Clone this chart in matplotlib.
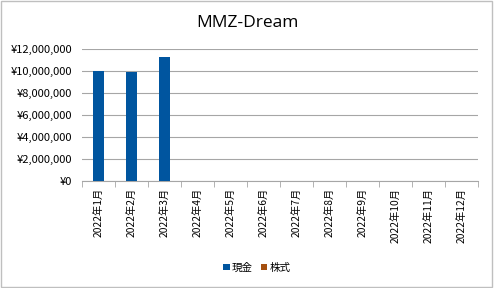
import matplotlib.pyplot as plt
import matplotlib.ticker as mticker
from matplotlib.patches import Rectangle
import numpy as np

plt.rcParams['font.family'] = ['Noto Sans CJK JP', 'DejaVu Sans']

months = ['2022年1月', '2022年2月', '2022年3月', '2022年4月', '2022年5月', '2022年6月',
          '2022年7月', '2022年8月', '2022年9月', '2022年10月', '2022年11月', '2022年12月']
cash = [9980000, 9930000, 11300000, 0, 0, 0, 0, 0, 0, 0, 0, 0]
stocks = [0, 0, 0, 0, 0, 0, 0, 0, 0, 0, 0, 0]

fig = plt.figure(figsize=(4.94, 2.88), dpi=100)
fig.patches.append(Rectangle((0.002, 0.003), 0.994, 0.994, transform=fig.transFigure,
                             fill=False, edgecolor='#bfbfbf', linewidth=1))
ax = fig.add_axes([0.166, 0.371, 0.802, 0.459])

x = np.arange(len(months))
ax.bar(x, cash, width=0.36, color='#00559f', label='現金', zorder=3)
ax.bar(x, stocks, width=0.36, color='#a5500f', label='株式', zorder=3)

ax.set_xlim(-0.5, 11.5)
ax.set_ylim(0, 12000000)
ax.yaxis.set_major_locator(mticker.MultipleLocator(2000000))
ax.yaxis.set_major_formatter(mticker.FuncFormatter(lambda v, p: '¥{:,.0f}'.format(v)))
ax.grid(axis='y', color='#a6a6a6', linewidth=0.8, zorder=0)
ax.tick_params(axis='y', length=0, labelsize=8, pad=7)

ax.set_xticks(x)
ax.set_xticklabels(months, rotation=90, fontsize=7.4)
ax.set_xticks(np.arange(-0.5, 12, 1), minor=True)
ax.tick_params(axis='x', which='major', length=0, pad=5)
ax.tick_params(axis='x', which='minor', length=4, color='#a6a6a6', direction='out')

for s in ['top', 'right', 'left']:
    ax.spines[s].set_visible(False)
ax.spines['bottom'].set_color('#a6a6a6')

fig.suptitle('MMZ-Dream', y=0.947, fontsize=12.5, family=['Open Sans', 'DejaVu Sans'])
fig.legend(loc='lower center', bbox_to_anchor=(0.52, 0.02), ncol=2, frameon=False,
           fontsize=7.6, handlelength=0.6, handleheight=0.6, handletextpad=0.2,
           columnspacing=0.8)

plt.savefig('out.png', dpi=100)
